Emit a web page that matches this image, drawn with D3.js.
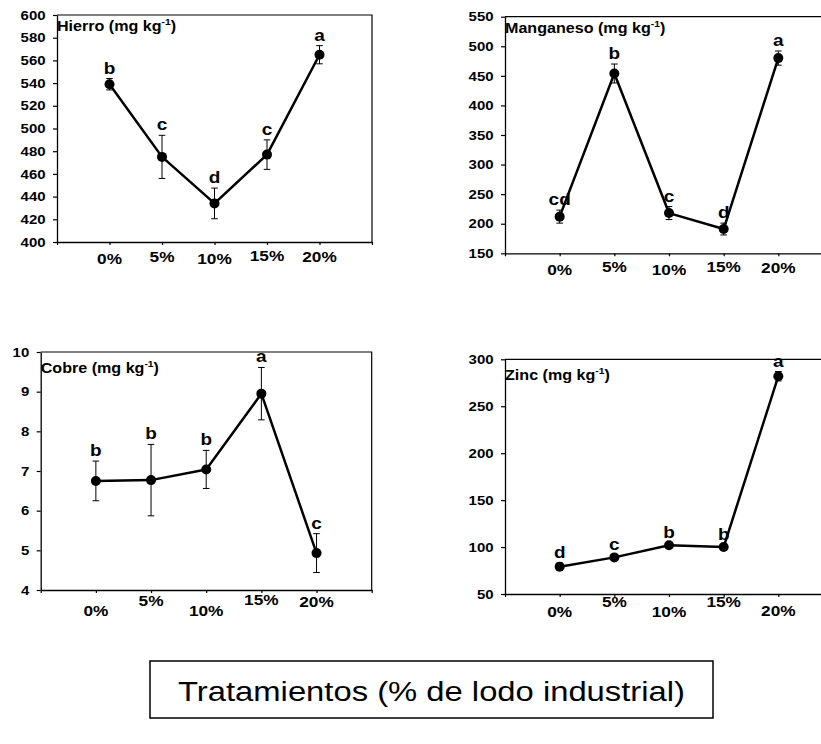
<!DOCTYPE html>
<html>
<head>
<meta charset="utf-8">
<script src="https://cdn.jsdelivr.net/npm/d3@7"></script>
<style>
  html, body { margin: 0; padding: 0; background: #fff; }
  svg { display: block; }
  text { font-family: "Liberation Sans", Arial, sans-serif; fill: #000; }
  .ytick text { font-weight: bold; font-size: 13px; }
</style>
</head>
<body>
<svg id="chart" width="821" height="744"></svg>
<script>
// Treatments: percentage of industrial sludge
const treatments = ["0%", "5%", "10%", "15%", "20%"];

// Iron (mg/kg)
const hierroMean = [539, 475, 434, 477, 565];
const hierroErr = [5, 19, 13.5, 13, 8];
const hierroLetters = ["b", "c", "d", "c", "a"];
const hierroTicks = [400, 420, 440, 460, 480, 500, 520, 540, 560, 580, 600];

// Manganese (mg/kg)
const manganesoMean = [212, 454, 218, 191, 480];
const manganesoErr = [11, 16, 11, 10, 12];
const manganesoLetters = ["cd", "b", "c", "d", "a"];
const manganesoTicks = [150, 200, 250, 300, 350, 400, 450, 500, 550];

// Copper (mg/kg)
const cobreMean = [6.75, 6.77, 7.04, 8.95, 4.93];
const cobreErr = [0.5, 0.9, 0.48, 0.66, 0.49];
const cobreLetters = ["b", "b", "b", "a", "c"];
const cobreTicks = [4, 5, 6, 7, 8, 9, 10];

// Zinc (mg/kg)
const zincMean = [79, 89, 102, 100, 282];
const zincErr = [4, 3, 2, 2, 5];
const zincLetters = ["d", "c", "b", "b", "a"];
const zincTicks = [50, 100, 150, 200, 250, 300];

const xAxisTitle = "Tratamientos (% de lodo industrial)";

// horizontal stretch applied to all lettering
const SX = 1.15;

const panels = [
  { title: "Hierro", mean: hierroMean, err: hierroErr, letters: hierroLetters, ticks: hierroTicks,
    left: 57, right: 372, top: 15, bottom: 242, labelDrop: [22, 19.5, 22, 18.5, 19.5], titleY: 31 },
  { title: "Manganeso", mean: manganesoMean, err: manganesoErr, letters: manganesoLetters, ticks: manganesoTicks,
    left: 505, right: 833, top: 16.7, bottom: 253.3, labelDrop: [21.5, 18.5, 21.5, 18.5, 19.5], titleY: 33 },
  { title: "Cobre", mean: cobreMean, err: cobreErr, letters: cobreLetters, ticks: cobreTicks,
    left: 40.7, right: 371.7, top: 352, bottom: 590, labelDrop: [26, 16, 26, 15, 17], titleY: 372.5 },
  { title: "Zinc", mean: zincMean, err: zincErr, letters: zincLetters, ticks: zincTicks,
    left: 505, right: 833, top: 359.3, bottom: 594, labelDrop: [22.5, 13, 22.5, 13, 22], titleY: 380 }
];

const svg = d3.select("#chart");

function stretchedText(parent, x, y, str, size, weight, anchor) {
  return parent.append("text")
    .attr("transform", `translate(${x},${y}) scale(${SX},1)`)
    .attr("text-anchor", anchor || "start")
    .style("font-size", size + "px")
    .style("font-weight", weight || "bold")
    .text(str);
}

panels.forEach(p => {
  const g = svg.append("g");
  const x = d3.scaleLinear().domain([0, 6]).range([p.left, p.right]);
  const y = d3.scaleLinear().domain(d3.extent(p.ticks)).range([p.bottom, p.top]);

  // plot frame: top and right edges
  g.append("path")
    .attr("d", `M${p.left},${p.top}H${p.right}V${p.bottom}`)
    .attr("fill", "none").attr("stroke", "#000").attr("stroke-width", 1.2);

  // y axis
  const ya = g.append("g")
    .attr("class", "ytick")
    .attr("transform", `translate(${p.left},0)`)
    .call(d3.axisLeft(y).tickValues(p.ticks).tickFormat(d3.format("d"))
      .tickSize(4).tickPadding(6).tickSizeOuter(0));
  ya.attr("font-family", null).attr("font-size", null);
  ya.select(".domain").attr("stroke-width", 1.3);
  ya.selectAll(".tick line").attr("stroke-width", 1.2);
  ya.selectAll(".tick text").attr("transform", `scale(${SX},1)`);

  // x axis with ticks at every slot boundary
  const xa = g.append("g")
    .attr("transform", `translate(0,${p.bottom})`)
    .call(d3.axisBottom(x).tickValues(d3.range(0, 7)).tickSize(3).tickSizeOuter(0).tickFormat(""));
  xa.select(".domain").attr("stroke-width", 1.3);
  xa.selectAll(".tick line").attr("stroke-width", 1.2);

  // category labels
  treatments.forEach((t, i) => {
    stretchedText(g, x(i + 1), p.bottom + p.labelDrop[i], t, 15, "bold", "middle");
  });

  // panel title with superscript unit
  const tt = g.append("text")
    .attr("transform", `translate(${p.left},${p.titleY}) scale(${SX},1)`)
    .style("font-size", "14px").style("font-weight", "bold");
  tt.append("tspan").text(p.title + " (mg kg");
  tt.append("tspan").style("font-size", "9px").attr("dy", -6).text("-1");
  tt.append("tspan").attr("dy", 6).text(")");

  // error bars
  const capW = 3.3;
  p.mean.forEach((m, i) => {
    const cx = x(i + 1);
    const y0 = y(m - p.err[i]), y1 = y(m + p.err[i]);
    g.append("path")
      .attr("d", `M${cx},${y0}V${y1}M${cx - capW},${y0}H${cx + capW}M${cx - capW},${y1}H${cx + capW}`)
      .attr("fill", "none").attr("stroke", "#000").attr("stroke-width", 1);
  });

  // connecting line
  const line = d3.line().x((d, i) => x(i + 1)).y(d => y(d));
  g.append("path").datum(p.mean)
    .attr("d", line)
    .attr("fill", "none").attr("stroke", "#000").attr("stroke-width", 2.5)
    .attr("stroke-linejoin", "round");

  // means
  g.selectAll("circle.pt").data(p.mean).join("circle")
    .attr("class", "pt")
    .attr("cx", (d, i) => x(i + 1)).attr("cy", d => y(d)).attr("r", 5)
    .attr("fill", "#000");

  // significance letters
  p.letters.forEach((l, i) => {
    stretchedText(g, x(i + 1), y(p.mean[i] + p.err[i]) - 5, l, 16.5, "bold", "middle");
  });
});

// shared x-axis title in a box
const bx = { x: 150, y: 661, w: 563, h: 57 };
svg.append("rect")
  .attr("x", bx.x).attr("y", bx.y).attr("width", bx.w).attr("height", bx.h)
  .attr("fill", "#fff").attr("stroke", "#000").attr("stroke-width", 1.5);
stretchedText(svg, bx.x + bx.w / 2, bx.y + 40, xAxisTitle, 28.5, "normal", "middle");
</script>
</body>
</html>
